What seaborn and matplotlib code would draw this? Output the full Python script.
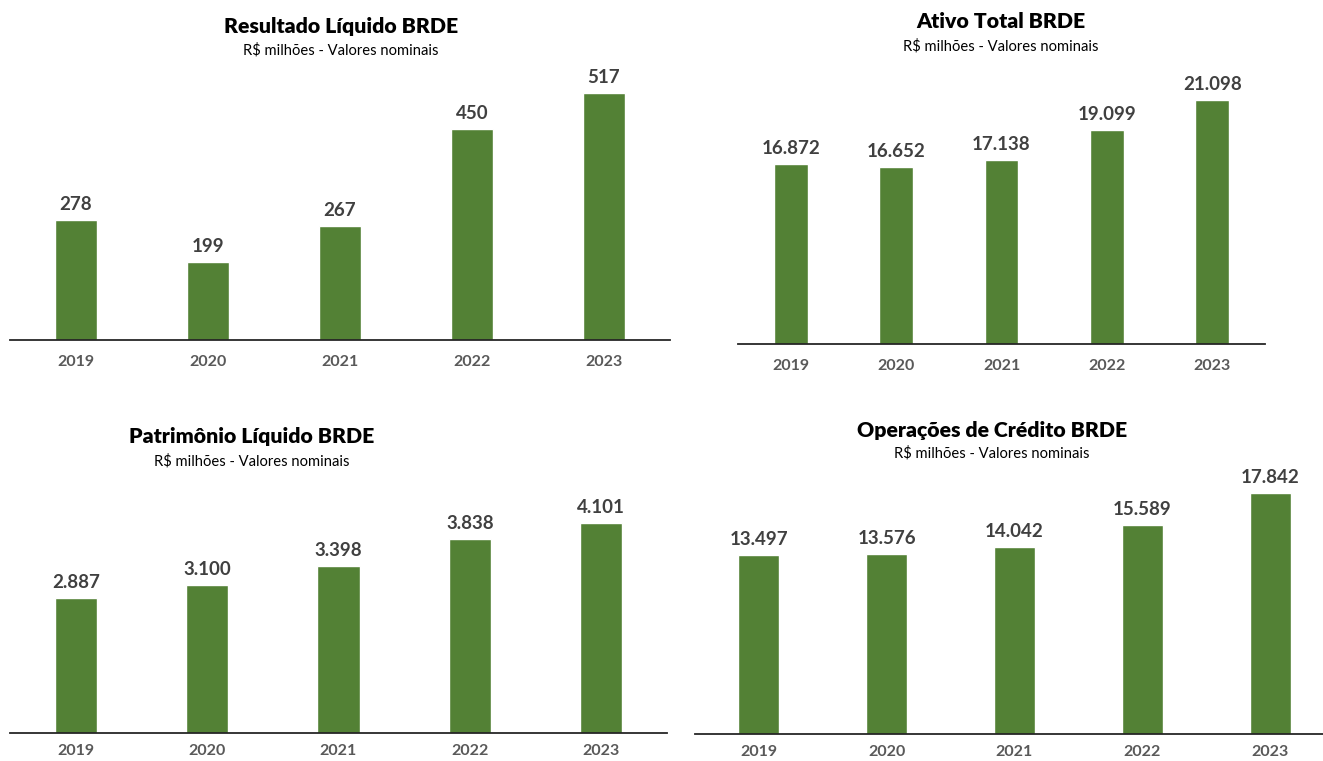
import matplotlib
matplotlib.use("Agg")
import matplotlib.pyplot as plt
import seaborn as sns
import pandas as pd

# data
years = ["2019", "2020", "2021", "2022", "2023"]
resultado_liquido = [278, 199, 267, 450, 517]
ativo_total = [16872, 16652, 17138, 19099, 21098]
patrimonio_liquido = [2887, 3100, 3398, 3838, 4101]
operacoes_credito = [13497, 13576, 14042, 15589, 17842]

titles = ["Resultado Líquido BRDE", "Ativo Total BRDE",
          "Patrimônio Líquido BRDE", "Operações de Crédito BRDE"]
subtitle = "R$ milhões - Valores nominais"

sns.set_style("white")
plt.rcParams["font.family"] = ["Lato", "DejaVu Sans"]

W, H = 1323, 761
fig = plt.figure(figsize=(W / 100, H / 100), dpi=100)

green = "#538135"
dark = "#404040"
gray = "#595959"

# panel layout in pixels: left, width, baseline, ymin, px per unit, title x, title y, subtitle y, tick pad
panels = [
    (resultado_liquido, 10, 660, 340, 52, 0.531, 341, 27, 50, 11),
    (ativo_total, 738, 527, 344, 4907, 0.01507, 1001, 22, 46, 11),
    (patrimonio_liquido, 10, 657, 733, 702, 0.0618, 252, 437, 461, 8),
    (operacoes_credito, 695, 639, 734, 953, 0.01427, 992, 430, 453, 8),
]

for i, (vals, left, width, base, ymin, scale, tx, ty, sy, pad) in enumerate(panels):
    top = base - 270
    ax = fig.add_axes([left / W, (H - base) / H, width / W, (base - top) / H])
    df = pd.DataFrame({"ano": years, "valor": vals})
    sns.barplot(data=df, x="ano", y="valor", color=green, width=0.32,
                saturation=1, ax=ax)
    ax.set_xlim(-0.5, 4.5)
    ax.set_ylim(ymin, ymin + (base - top) / scale)
    labels = [f"{v:,.0f}".replace(",", ".") for v in vals]
    ax.bar_label(ax.containers[0], labels=labels, padding=5, fontsize=13.5,
                 fontweight="bold", color=dark)
    ax.set_xlabel("")
    ax.set_ylabel("")
    ax.set_yticks([])
    ax.tick_params(axis="x", length=0, pad=pad, labelsize=11.5, labelcolor=gray)
    for lab in ax.get_xticklabels():
        lab.set_fontweight("bold")
    for s in ["top", "left", "right"]:
        ax.spines[s].set_visible(False)
    ax.spines["bottom"].set_color("#262626")
    ax.spines["bottom"].set_linewidth(1.3)

    fig.text(tx / W, 1 - ty / H, titles[i], ha="center", va="center",
             fontsize=15.3, fontweight="heavy", color="black")
    fig.text(tx / W, 1 - sy / H, subtitle, ha="center", va="center",
             fontsize=10.6, color="black")

fig.savefig("out.png", dpi=100, facecolor="white")
